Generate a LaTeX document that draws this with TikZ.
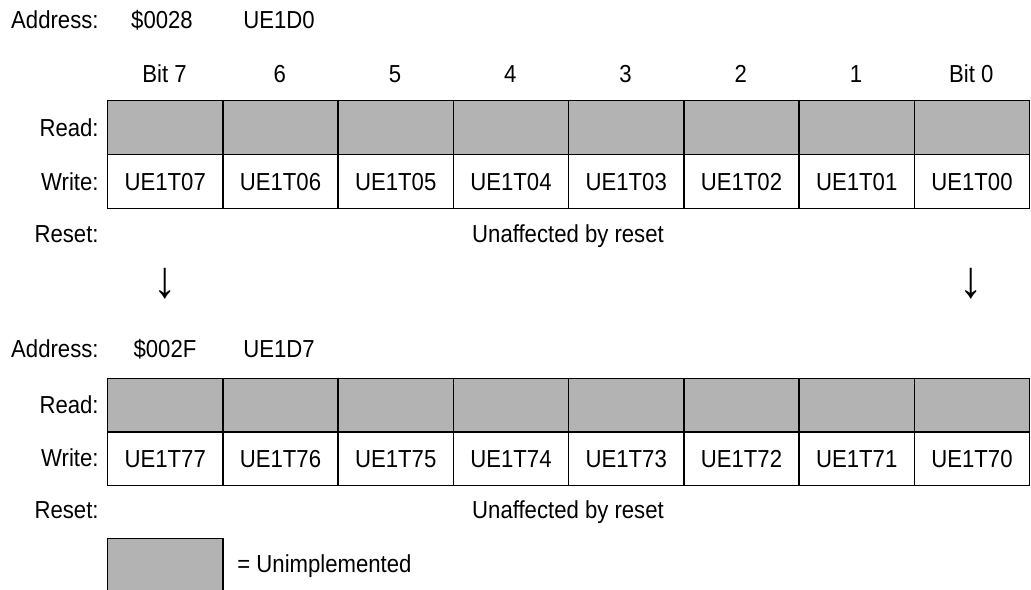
\documentclass[tikz,border=0pt]{standalone}
\usepackage{fontspec}
\setmainfont{Liberation Sans}[FakeStretch=0.9]
\usepackage{xcolor}
\usetikzlibrary{positioning}
\definecolor{Reg_Gray}{HTML}{B3B3B3}

\tikzset{
  regcell/.style={draw, line width=0.65pt, minimum width=57.6pt, minimum height=27pt, inner sep=0pt,
    text height=8.8pt, text depth=0pt, anchor=north west},
  unimp/.style={regcell, fill=Reg_Gray},
  rowlbl/.style={anchor=base east, inner sep=0pt},
  txt/.style={anchor=base, inner sep=0pt},
  downarr/.style={inner sep=0pt, font=\fontsize{26}{30}\selectfont}
}

\begin{document}
\begin{tikzpicture}[x=0.5pt, y=-0.5pt, font=\fontsize{12.3}{14}\selectfont]
\clip (0,0) rectangle (1031,589);
% --- Register $0028 ---
\node[rowlbl] (addrA) at (99,28) {Address:};
\node[txt] (hexA) at (162,28) {\$0028};
\node[txt] (nameA) at (279,28) {UE1D0};
\foreach \i/\b in {0/Bit 7,1/6,2/5,3/4,4/3,5/2,6/1,7/Bit 0} {
  \node[txt] (bit\i) at ({164.6+115.25*\i},82) {\b};
}
\node[rowlbl] (rdlblA) at (99,136) {Read:};
\node[rowlbl] (wrlblA) at (99,190) {Write:};
\node[rowlbl] (rslblA) at (99,242) {Reset:};
% Draw cells (read row unimplemented)
\foreach \i in {0,...,7} {
  \pgfmathtruncatemacro\n{7-\i}
  \node[unimp] (rdA\i) at ({107+115.25*\i},100) {};
  \node[regcell] (wrA\i) at ({107+115.25*\i},154) {UE1T0\n};
}
\node[txt] (rsA) at (568,242) {Unaffected by reset};
% --- Arrows between registers ---
\node[downarr] (dnL) at (165,284) {↓};
\node[downarr] (dnR) at (971,284) {↓};
% --- Register $002F ---
\node[rowlbl] (addrB) at (99,357.5) {Address:};
\node[txt] (hexB) at (165,357.5) {\$002F};
\node[txt] (nameB) at (279,357.5) {UE1D7};
\node[rowlbl] (rdlblB) at (99,413) {Read:};
\node[rowlbl] (wrlblB) at (99,466.5) {Write:};
\node[rowlbl] (rslblB) at (99,518) {Reset:};
\foreach \i in {0,...,7} {
  \pgfmathtruncatemacro\n{7-\i}
  \node[unimp] (rdB\i) at ({107+115.25*\i},377.5) {};
  \node[regcell] (wrB\i) at ({107+115.25*\i},431) {UE1T7\n};
}
\node[txt] (rsB) at (568,518) {Unaffected by reset};
% Legend
\node[unimp, minimum height=32pt] (key) at (107,538) {};
\node[anchor=base west, inner sep=0pt] (keytxt) at (237,572.5) {= Unimplemented};
\end{tikzpicture}
\end{document}
